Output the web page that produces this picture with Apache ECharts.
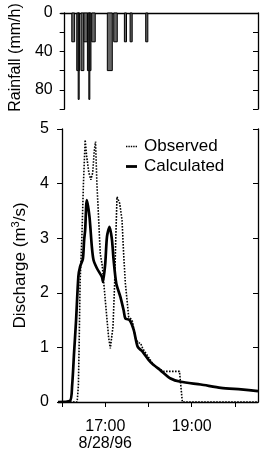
<!doctype html>
<html>
<head>
<meta charset="utf-8">
<script src="https://cdn.jsdelivr.net/npm/echarts@6/dist/echarts.min.js"></script>
<style type="text/css">
	html, body { margin: 0; padding: 0; background: #fff; }
	#chart { width: 264px; height: 454px; }
</style>
</head>
<body>
<div id="chart"></div>
<script type="text/javascript">
	// time in minutes after 16:00 on 8/28/96
	var rainStart = [10, 17, 19, 23, 27, 32, 34, 38, 60, 69, 84, 92, 114];
	var rainEnd   = [14, 21, 20, 27, 32, 37, 35, 43, 67, 74, 87, 95, 117];
	var rainRate  = [30, 60, 90, 60, 30, 60, 90, 30, 60, 30, 30, 30, 30];

	var obsTime = [-5.6, 21, 22.7, 23.7, 25.1, 27.5, 29.7, 32.1, 34.2, 37.2, 40, 42.6, 44.7, 46.5, 48.4, 50.6, 53, 55.8, 60, 64.6, 67, 70.7, 73, 74.6, 76.3, 80, 83.3, 85.5, 87.9, 92.5, 97.3, 101.9, 106, 109, 112, 127.4, 141, 163, 167, 272];
	var obsQ    = [0, 0, 0.3, 1.0, 2.2, 3.0, 4.0, 4.8, 4.5, 4.2, 4.07, 4.2, 4.6, 4.77, 4.0, 3.4, 2.72, 2.5, 1.87, 1.19, 0.98, 1.38, 2.17, 3.0, 3.76, 3.64, 3.33, 2.72, 2.17, 1.56, 1.5, 1.17, 1.08, 1.08, 0.98, 0.67, 0.56, 0.56, 0, 0];

	var calcTime = [-5.6, 11, 14, 16.7, 19.5, 22.7, 25.1, 28.9, 30.7, 32.1, 34.4, 38.1, 41.4, 43.7, 48.4, 55.4, 56.8, 60, 62.4, 66, 69.3, 71.6, 75.3, 80.9, 85.5, 87.9, 93.9, 99.5, 105, 111.2, 122.8, 136.7, 150.7, 164.7, 192.6, 220.5, 248.4, 272];
	var calcQ    = [0, 0.02, 0.3, 0.9, 1.5, 2.3, 2.48, 2.62, 2.97, 3.15, 3.7, 3.39, 2.84, 2.6, 2.45, 2.29, 2.2, 2.54, 3.03, 3.21, 2.97, 2.6, 2.17, 1.93, 1.68, 1.53, 1.5, 1.32, 1.01, 0.93, 0.73, 0.58, 0.43, 0.37, 0.32, 0.26, 0.23, 0.2];

	var timeTicks = [0, 60, 120, 180, 240];
	var timeLabelAt = [60, 180];
	var timeLabels = ['17:00\n8/28/96', '19:00'];
	var rainLabelAt = [0, 40, 80];

	var xMin = -5.6, xMax = 272;

	function zip(a, b) {
		var out = [];
		for (var i = 0; i < a.length; i++) out.push([a[i], b[i]]);
		return out;
	}

	var rainData = [];
	for (var i = 0; i < rainStart.length; i++) {
		rainData.push([rainStart[i], rainEnd[i], rainRate[i]]);
	}

	// legend icons: short dotted line and thick solid line
	var dotIcon = 'path://M0,0 M11,10 M0,4.3h1.4v1.4h-1.4z M2.4,4.3h1.4v1.4h-1.4z M4.8,4.3h1.4v1.4h-1.4z M7.2,4.3h1.4v1.4h-1.4z M9.6,4.3h1.4v1.4h-1.4z';
	var lineIcon = 'path://M0,0 M11,10 M0,3.6h11v2.8h-11z';

	var myChart = echarts.init(document.getElementById('chart'), null, { renderer: 'canvas' });
	var option = {
		animation: false,
		textStyle: { fontFamily: 'Liberation Sans, Arial, sans-serif', color: '#000' },
		grid: [
			{ left: 58, right: 6, top: 13, height: 96 },
			{ left: 58, right: 6, top: 129, bottom: 52 }
		],
		legend: {
			orient: 'vertical',
			left: 121,
			top: 133,
			itemWidth: 11,
			itemHeight: 10,
			itemGap: 3,
			textStyle: { fontSize: 17, color: '#000', padding: [0, 0, 0, 2] },
			data: [
				{ name: 'Observed', icon: dotIcon },
				{ name: 'Calculated', icon: lineIcon }
			]
		},
		xAxis: [
			{
				gridIndex: 0, type: 'value', min: xMin, max: xMax, position: 'top',
				axisLine: { show: true, onZero: false, lineStyle: { color: '#000', width: 1.3 } },
				axisTick: { show: false }, axisLabel: { show: false }, splitLine: { show: false }
			},
			{
				gridIndex: 1, type: 'value', min: xMin, max: xMax,
				axisLine: { show: true, onZero: false, lineStyle: { color: '#000', width: 1.3 } },
				axisTick: { show: true, customValues: timeTicks, length: 5, lineStyle: { color: '#000' } },
				axisLabel: {
					customValues: timeLabelAt, fontSize: 16, lineHeight: 17, margin: 16, color: '#000',
					formatter: function (v) { return timeLabels[timeLabelAt.indexOf(v)]; }
				},
				splitLine: { show: false }
			}
		],
		yAxis: [
			{
				gridIndex: 0, type: 'value', inverse: true, min: 0, max: 100, interval: 20, position: 'left',
				name: 'Rainfall (mm/h)', nameLocation: 'middle', nameGap: 22,
				nameTextStyle: { fontSize: 16, color: '#000', padding: [0, 0, 0, 7] },
				axisLine: { show: true, lineStyle: { color: '#000', width: 1.3 } },
				axisTick: { show: true, length: 5, lineStyle: { color: '#000' } },
				axisLabel: { customValues: rainLabelAt, fontSize: 16, margin: 8, color: '#000' },
				splitLine: { show: false }
			},
			{
				gridIndex: 0, type: 'value', inverse: true, min: 0, max: 100, interval: 20, position: 'right',
				axisLine: { show: true, lineStyle: { color: '#000', width: 1.3 } },
				axisTick: { show: true, inside: true, length: 5, lineStyle: { color: '#000' } },
				axisLabel: { show: false }, splitLine: { show: false }
			},
			{
				gridIndex: 1, type: 'value', min: 0, max: 5, interval: 1, position: 'left',
				name: 'Discharge (m{sup|3}/s)', nameLocation: 'middle', nameGap: 23,
				nameTextStyle: {
					fontSize: 17, color: '#000',
					rich: { sup: { fontSize: 11, color: '#000', verticalAlign: 'bottom', padding: [0, 0, 9, 0] } }
				},
				axisLine: { show: true, lineStyle: { color: '#000', width: 1.3 } },
				axisTick: { show: true, length: 5, lineStyle: { color: '#000' } },
				axisLabel: { fontSize: 16, margin: 9, color: '#000' },
				splitLine: { show: false }
			},
			{
				gridIndex: 1, type: 'value', min: 0, max: 5, interval: 1, position: 'right',
				axisLine: { show: true, lineStyle: { color: '#000', width: 1.3 } },
				axisTick: { show: true, inside: true, length: 5, lineStyle: { color: '#000' } },
				axisLabel: { show: false }, splitLine: { show: false }
			}
		],
		series: [
			{
				type: 'custom',
				xAxisIndex: 0, yAxisIndex: 0,
				data: rainData,
				renderItem: function (params, api) {
					var p0 = api.coord([api.value(0), 0]);
					var p1 = api.coord([api.value(1), api.value(2)]);
					return {
						type: 'rect',
						shape: { x: p0[0], y: p0[1], width: Math.max(p1[0] - p0[0], 1), height: p1[1] - p0[1] },
						style: { fill: '#666', stroke: '#000', lineWidth: 1 }
					};
				}
			},
			{
				name: 'Observed', type: 'line', xAxisIndex: 1, yAxisIndex: 2,
				data: zip(obsTime, obsQ), symbol: 'none',
				lineStyle: { color: '#000', width: 1.6, type: [1.6, 1.4] },
				itemStyle: { color: '#000' }
			},
			{
				name: 'Calculated', type: 'line', xAxisIndex: 1, yAxisIndex: 2,
				data: zip(calcTime, calcQ), symbol: 'none', smooth: 0.25,
				lineStyle: { color: '#000', width: 2.7 },
				itemStyle: { color: '#000' }
			}
		]
	};
	myChart.setOption(option);
</script>
</body>
</html>
